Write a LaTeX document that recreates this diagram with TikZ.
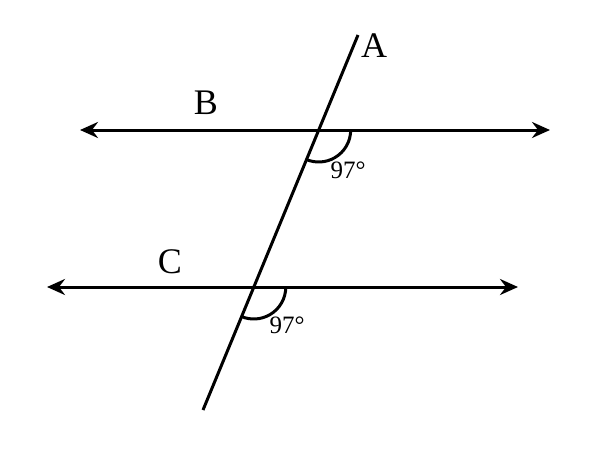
\documentclass[tikz,border=0pt]{standalone}
\usepackage{fontspec}
\setmainfont{Liberation Serif}
\usetikzlibrary{arrows.meta}
\begin{document}
\begin{tikzpicture}[x=1pt,y=-1pt,
  ln/.style={line width=3pt},
  arr/.style={ln,{Stealth[length=18pt,width=16pt,inset=6pt]}-{Stealth[length=18pt,width=16pt,inset=6pt]}},
  lbl/.style={font=\fontsize{36}{36}\selectfont,inner sep=0},
  ang/.style={font=\fontsize{25}{25}\selectfont,inner sep=0}]
\useasboundingbox (0,0) rectangle (600,450);
\coordinate (t1) at (358,35);
\coordinate (t2) at (203,410);
\coordinate (b1) at (80,130);
\coordinate (b2) at (550,130);
\coordinate (c1) at (47,287);
\coordinate (c2) at (518,287);
\coordinate (pb) at (318.7,130);
\coordinate (pc) at (253.8,287);
\draw[arr] (b1) -- (b2);
\draw[arr] (c1) -- (c2);
\draw[ln] (t1) -- (t2);
\draw[ln] ([xshift=32pt]pb) arc[start angle=0,end angle=-112.5,radius=32pt];
\draw[ln] ([xshift=32pt]pc) arc[start angle=0,end angle=-112.5,radius=32pt];
\node[lbl] (A) at (374,46) {A};
\node[lbl] (B) at (206,103) {B};
\node[lbl] (C) at (170,262) {C};
\node[ang] (a1) at (348,170) {97°};
\node[ang] (a2) at (287,325) {97°};
\end{tikzpicture}
\end{document}
